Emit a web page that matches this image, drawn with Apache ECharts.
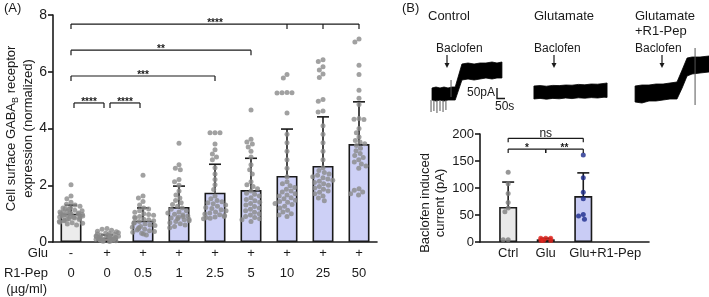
<!DOCTYPE html>
<html>
<head>
<meta charset="utf-8">
<script src="https://cdn.jsdelivr.net/npm/echarts@6/dist/echarts.min.js"></script>
<style>
  html, body { margin: 0; padding: 0; background: #fff; }
  #chart { width: 709px; height: 297px; }
</style>
</head>
<body>
<div id="chart"></div>
<script>
const font = '"Liberation Sans", Arial, Helvetica, sans-serif'
const ink = '#1a1a1a'

// ---- panel A: surface GABA-B expression ----
const gluSigns = ['-', '+', '+', '+', '+', '+', '+', '+', '+']
const pepDoses = ['0', '0', '0.5', '1', '2.5', '5', '10', '25', '50']
const meanA = [1.0, 0.15, 0.75, 1.23, 1.74, 1.83, 2.33, 2.68, 3.45]
const sdA = [0.3, 0.1, 0.45, 0.74, 1.0, 1.12, 1.65, 1.73, 1.49]
const barColorsA = ['#ececec', '#eccaca', '#cdd0f6', '#cdd0f6', '#cdd0f6', '#cdd0f6', '#cdd0f6', '#cdd0f6', '#cdd0f6']

const ptsCtrlA = [2.02, 1.62, 1.52, 1.4, 1.33, 1.3, 1.26, 1.22, 1.2, 1.17, 1.15, 1.12, 1.1, 1.09, 1.06, 1.05, 1.03, 1.02, 1.0, 0.99, 0.98, 0.97, 0.95, 0.95, 0.93, 0.92, 0.9, 0.9, 0.88, 0.87, 0.85, 0.84, 0.82, 0.8, 0.79, 0.77, 0.75, 0.72, 0.7, 0.68, 0.66, 0.63, 0.6]
const ptsGluA = [0.48, 0.45, 0.41, 0.38, 0.36, 0.33, 0.31, 0.3, 0.28, 0.27, 0.25, 0.24, 0.22, 0.21, 0.2, 0.19, 0.18, 0.17, 0.16, 0.15, 0.14, 0.14, 0.13, 0.12, 0.11, 0.1, 0.1, 0.09, 0.08, 0.07, 0.06, 0.05, 0.05, 0.04, 0.03, 0.02]
const ptsPep0_5 = [2.35, 1.62, 1.55, 1.43, 1.3, 1.2, 1.16, 1.1, 1.05, 1.0, 0.97, 0.94, 0.9, 0.87, 0.84, 0.8, 0.78, 0.75, 0.72, 0.68, 0.66, 0.63, 0.6, 0.58, 0.55, 0.52, 0.5, 0.47, 0.45, 0.42, 0.4, 0.37, 0.34, 0.31, 0.28, 0.25]
const ptsPep1 = [3.48, 2.72, 2.6, 2.55, 2.2, 2.12, 2.0, 1.8, 1.66, 1.55, 1.46, 1.38, 1.32, 1.26, 1.2, 1.15, 1.1, 1.06, 1.02, 0.98, 0.95, 0.92, 0.9, 0.87, 0.85, 0.82, 0.8, 0.78, 0.75, 0.72, 0.68, 0.64, 0.6, 0.55, 0.5]
const ptsPep2_5 = [3.85, 3.85, 3.85, 3.45, 3.25, 3.1, 3.0, 2.9, 2.62, 2.4, 2.2, 2.02, 1.85, 1.62, 1.52, 1.46, 1.42, 1.38, 1.35, 1.3, 1.26, 1.22, 1.18, 1.14, 1.1, 1.06, 1.02, 0.99, 0.96, 0.93, 0.9, 0.88, 0.86, 0.84, 0.82]
const ptsPep5 = [4.65, 3.62, 3.52, 3.45, 3.35, 3.2, 3.0, 2.72, 2.55, 2.4, 2.12, 2.02, 1.96, 1.88, 1.8, 1.72, 1.68, 1.62, 1.56, 1.5, 1.45, 1.4, 1.36, 1.3, 1.25, 1.2, 1.15, 1.1, 1.05, 1.0, 0.95, 0.9, 0.86, 0.82, 0.78, 0.72]
const ptsPep10 = [5.9, 5.78, 5.27, 5.26, 5.26, 5.25, 4.55, 3.8, 3.5, 3.2, 2.9, 2.6, 2.3, 2.12, 2.05, 1.98, 1.92, 1.86, 1.8, 1.76, 1.7, 1.66, 1.62, 1.56, 1.52, 1.47, 1.43, 1.4, 1.36, 1.32, 1.26, 1.2, 1.12, 1.06, 1.0, 0.95, 0.9]
const ptsPep25 = [6.42, 6.36, 6.18, 6.06, 5.92, 5.8, 5.02, 4.96, 4.62, 4.58, 4.1, 3.8, 3.5, 3.2, 2.9, 2.62, 2.52, 2.45, 2.4, 2.35, 2.3, 2.26, 2.22, 2.18, 2.14, 2.1, 2.05, 2.0, 1.96, 1.9, 1.86, 1.8, 1.75, 1.7, 1.62, 1.55, 1.45]
const ptsPep50 = [7.15, 7.05, 6.23, 5.9, 5.35, 5.07, 4.85, 4.35, 4.33, 4.32, 4.0, 3.85, 3.7, 3.58, 3.52, 3.46, 3.4, 3.3, 3.22, 3.12, 3.05, 2.98, 2.9, 2.82, 2.75, 2.68, 2.6, 1.88, 1.82, 1.76, 1.7, 1.66]
const pointsA = [ptsCtrlA, ptsGluA, ptsPep0_5, ptsPep1, ptsPep2_5, ptsPep5, ptsPep10, ptsPep25, ptsPep50]

// significance brackets (group index from/to, bracket height)
const sigFromA = [0, 1, 0, 0, 0]
const sigToA = [1, 2, 4, 5, 8]
const sigYA = [4.9, 4.9, 5.85, 6.76, 7.68]
const sigTicksA = [[0, 1], [1, 2], [0, 4], [0, 5], [0, 6, 7, 8]]
const sigTextA = ['****', '****', '***', '**', '****']

// ---- panel B: baclofen induced current ----
const groupsB = ['Ctrl', 'Glu', 'Glu+R1-Pep']
const meanB = [65, 5, 85]
const sdB = [46, 2, 43]
const barColorsB = ['#e8e8e8', '#e8e8e8', '#c9ccf5']
const dotColorsB = ['#7d7d7d', '#e3241d', '#1b2b8c']
const ptsCtrlB = [129, 108, 90, 73, 63, 56, 4, 4]
const ptsGluB = [7, 7, 7, 3, 3, 3]
const ptsPepB = [161, 119, 92, 80, 51, 48, 42]
const pointsB = [ptsCtrlB, ptsGluB, ptsPepB]

const sigFromB = [0, 0, 1]
const sigToB = [2, 1, 2]
const sigYB = [192, 172, 172]
const sigTextB = ['ns', '*', '**']

// ---- recordings (time in s, current in pA; lower / upper edge of the noisy band) ----
const ctrlT = [25, 50, 75, 100, 125, 150, 170, 212, 250, 288, 325, 362, 400, 431, 462]
const ctrlLo = [100, 95, 100, 95, 100, 100, 100, 200, 205, 200, 205, 210, 205, 210, 210]
const ctrlHi = [160, 165, 160, 165, 160, 165, 165, 280, 285, 280, 285, 285, 290, 285, 290]
const gluT = [662, 700, 740, 780, 820, 860, 900, 940, 980, 1020, 1060, 1100, 1119]
const gluLo = [105, 108, 104, 108, 106, 110, 107, 111, 109, 112, 110, 114, 113]
const gluHi = [170, 172, 169, 173, 172, 175, 174, 178, 176, 180, 179, 183, 185]
const pepT = [1294, 1337, 1381, 1425, 1469, 1512, 1556, 1588, 1619, 1650, 1700, 1756]
const pepLo = [90, 85, 95, 95, 100, 105, 105, 160, 220, 230, 235, 240]
const pepHi = [170, 175, 175, 180, 180, 185, 190, 250, 310, 315, 315, 320]
const spikeT = [19, 37, 56, 75, 94, 112, 144, 1669]
const spikeLo = [40, 45, 35, 45, 40, 50, 115, 75]
const spikeHi = [100, 100, 100, 100, 100, 100, 200, 360]
const tracesT = [ctrlT, gluT, pepT]
const tracesLo = [ctrlLo, gluLo, pepLo]
const tracesHi = [ctrlHi, gluHi, pepHi]

const slotB = (g) => g * 2 + 1
const slotsB = Array.from({ length: 9 }, (_, i) => (i % 2 === 1 && groupsB[(i - 1) / 2]) || '')

const scatterA = []
pointsA.forEach((pts, i) => pts.forEach((v) => scatterA.push([i, v])))

const errorBar = (params, api) => {
  const base = api.coord([api.value(0), api.value(1)])
  const top = api.coord([api.value(0), api.value(1) + api.value(2)])
  const style = { stroke: ink, lineWidth: 1.6 }
  return {
    type: 'group',
    children: [
      { type: 'line', shape: { x1: base[0], y1: base[1], x2: top[0], y2: top[1] }, style },
      { type: 'line', shape: { x1: top[0] - 6, y1: top[1], x2: top[0] + 6, y2: top[1] }, style },
    ],
  }
}

const bracketRender = (fromArr, toArr, yArr, ticksArr, textArr, slot, opts) => (params, api) => {
  const i = params.dataIndex
  const inset = toArr[i] - fromArr[i] === 1 ? opts.inset : 0
  const xOf = (g) => {
    let x = api.coord([slot(g), yArr[i]])[0]
    if (g === fromArr[i]) x += inset
    if (g === toArr[i]) x -= inset
    return x
  }
  const y = api.coord([slot(fromArr[i]), yArr[i]])[1]
  const x1 = xOf(fromArr[i])
  const x2 = xOf(toArr[i])
  const style = { stroke: ink, lineWidth: 1.2 }
  const children = [{ type: 'line', shape: { x1, y1: y, x2, y2: y }, style }]
  ticksArr[i].forEach((g) => {
    const x = xOf(g)
    children.push({ type: 'line', shape: { x1: x, y1: y, x2: x, y2: y + opts.drop }, style })
  })
  const isNs = textArr[i] === 'ns'
  children.push({
    type: 'text',
    style: {
      text: textArr[i],
      x: (x1 + x2) / 2,
      y: y + (isNs ? 1 : 4),
      align: 'center',
      verticalAlign: 'bottom',
      textAlign: 'center',
      textVerticalAlign: 'bottom',
      font: isNs ? `12px ${font}` : `bold 10px ${font}`,
      fill: ink,
    },
  })
  return { type: 'group', children }
}

// one filled band per recording: upper edge forward, lower edge back
const traceBand = (params, api) => {
  const k = params.dataIndex
  const T = tracesT[k]
  const upper = T.map((t, i) => api.coord([t, tracesHi[k][i]]))
  const lower = T.map((t, i) => api.coord([t, tracesLo[k][i]])).reverse()
  return {
    type: 'polygon',
    shape: { points: upper.concat(lower) },
    style: { fill: '#000', stroke: '#000', lineWidth: 0.8 },
  }
}

const txt = (text, x, y, size, align, extra) => ({
  type: 'text', x, y, silent: true,
  style: Object.assign({
    text, font: `${size}px ${font}`, fill: ink,
    align: align || 'left', verticalAlign: 'middle',
    textAlign: align || 'left', textVerticalAlign: 'middle',
  }, extra || {}),
})

const arrow = (x) => ({
  type: 'group', silent: true,
  children: [
    { type: 'line', shape: { x1: x, y1: 55, x2: x, y2: 66 }, style: { stroke: ink, lineWidth: 1.2 } },
    { type: 'polygon', shape: { points: [[x - 2.5, 63], [x + 2.5, 63], [x, 68]] }, style: { fill: ink } },
  ],
})

const chart = echarts.init(document.getElementById('chart'))
chart.setOption({
  animation: false,
  textStyle: { fontFamily: font },
  grid: [
    { left: 53, top: 15, width: 324, height: 227 },
    { left: 480, top: 134, width: 169, height: 108 },
    { left: 428, top: 40, width: 281, height: 80 },
  ],
  xAxis: [
    {
      gridIndex: 0, type: 'category', data: pepDoses,
      jitter: 24, jitterOverlap: false, jitterMargin: 0,
      axisLine: { lineStyle: { color: ink, width: 1.6 } },
      axisTick: { show: false },
      axisLabel: {
        interval: 0, margin: 1, fontSize: 13, lineHeight: 20, color: ink,
        formatter: (v, i) => gluSigns[i] + '\n' + pepDoses[i],
      },
    },
    {
      gridIndex: 1, type: 'category', data: slotsB,
      jitter: 12, jitterOverlap: false, jitterMargin: 0,
      axisLine: { lineStyle: { color: ink, width: 1.6 } },
      axisTick: { show: false },
      axisLabel: {
        interval: 0, margin: 3, fontSize: 13, lineHeight: 16, color: ink,
        formatter: (v) => (v === groupsB[2] ? '{r|' + v + '}' : v),
        rich: { r: { fontSize: 13, lineHeight: 16, color: ink, padding: [0, 0, 0, 44] } },
      },
    },
    { gridIndex: 2, type: 'value', min: 0, max: 1756, show: false },
  ],
  yAxis: [
    {
      gridIndex: 0, type: 'value', min: 0, max: 8, interval: 2,
      axisLine: { show: true, lineStyle: { color: ink, width: 1.6 } },
      axisTick: { show: true, length: 5, lineStyle: { color: ink, width: 1.6 } },
      axisLabel: { fontSize: 14, margin: 6, color: ink },
      splitLine: { show: false },
      name: '{t|Cell surface GABA}{s|B}{t| receptor}\n{t|expression (normalized)}',
      nameLocation: 'middle', nameRotate: 90, nameGap: 10,
      nameTextStyle: {
        rich: {
          t: { fontSize: 13, lineHeight: 17, color: ink, fontFamily: font },
          s: { fontSize: 9, lineHeight: 10, verticalAlign: 'bottom', color: ink, fontFamily: font },
        },
      },
    },
    {
      gridIndex: 1, type: 'value', min: 0, max: 200, interval: 50,
      axisLine: { show: true, lineStyle: { color: ink, width: 1.6 } },
      axisTick: { show: true, length: 5, lineStyle: { color: ink, width: 1.6 } },
      axisLabel: { fontSize: 13, margin: 6, color: ink },
      splitLine: { show: false },
      name: 'Baclofen induced\ncurrent (pA)',
      nameLocation: 'middle', nameRotate: 90, nameGap: 18,
      nameTextStyle: { fontSize: 13, lineHeight: 15, color: ink, padding: [0, 30, 0, 0] },
    },
    { gridIndex: 2, type: 'value', min: 0, max: 400, show: false },
  ],
  series: [
    {
      type: 'bar', xAxisIndex: 0, yAxisIndex: 0, barWidth: 21, z: 1,
      data: meanA.map((m, i) => ({ value: m, itemStyle: { color: barColorsA[i] } })),
      itemStyle: { borderColor: ink, borderWidth: 1.6 },
    },
    {
      type: 'custom', xAxisIndex: 0, yAxisIndex: 0, z: 2,
      data: meanA.map((m, i) => [i, m, sdA[i]]),
      encode: { x: 0, y: 1 }, renderItem: errorBar,
    },
    {
      type: 'scatter', xAxisIndex: 0, yAxisIndex: 0, z: 3,
      data: scatterA, symbolSize: 5, itemStyle: { color: '#8a8a8a' },
    },
    {
      type: 'custom', xAxisIndex: 0, yAxisIndex: 0, z: 4,
      data: sigYA.map((y, i) => [sigFromA[i], y]),
      encode: { x: 0, y: 1 },
      renderItem: bracketRender(sigFromA, sigToA, sigYA, sigTicksA, sigTextA, (g) => g, { inset: 3, drop: 5 }),
    },
    {
      type: 'bar', xAxisIndex: 1, yAxisIndex: 1, barWidth: 18, z: 1,
      data: meanB.map((m, i) => ({ value: [slotB(i), m], itemStyle: { color: barColorsB[i] } })),
      itemStyle: { borderColor: ink, borderWidth: 1.6 },
    },
    {
      type: 'custom', xAxisIndex: 1, yAxisIndex: 1, z: 2,
      data: meanB.map((m, i) => [slotB(i), m, sdB[i]]),
      encode: { x: 0, y: 1 }, renderItem: errorBar,
    },
    ...pointsB.map((pts, g) => ({
      type: 'scatter', xAxisIndex: 1, yAxisIndex: 1, z: 3,
      data: pts.map((v) => [slotB(g), v]), symbolSize: 5, itemStyle: { color: dotColorsB[g] },
    })),
    {
      type: 'custom', xAxisIndex: 1, yAxisIndex: 1, z: 4,
      data: sigYB.map((y, i) => [slotB(sigFromB[i]), y]),
      encode: { x: 0, y: 1 },
      renderItem: bracketRender(sigFromB, sigToB, sigYB, sigFromB.map((f, i) => [f, sigToB[i]]), sigTextB, slotB, { inset: 0, drop: 4 }),
    },
    {
      type: 'custom', xAxisIndex: 2, yAxisIndex: 2, silent: true, clip: false,
      data: tracesT.map((T, k) => [T[0], tracesLo[k][0]]),
      encode: { x: 0, y: 1 }, renderItem: traceBand,
    },
    {
      type: 'custom', xAxisIndex: 2, yAxisIndex: 2, silent: true,
      data: spikeT.map((t, i) => [t, spikeLo[i], spikeHi[i]]),
      encode: { x: 0, y: 1 },
      renderItem: (params, api) => {
        const a = api.coord([api.value(0), api.value(1)])
        const b = api.coord([api.value(0), api.value(2)])
        return { type: 'line', shape: { x1: a[0], y1: a[1], x2: b[0], y2: b[1] }, style: { stroke: '#555', lineWidth: 1 } }
      },
    },
  ],
  graphic: [
    txt('(A)', 4, 8, 13),
    txt('(B)', 402, 8, 13),
    txt('Glu', 48, 253, 13, 'right'),
    txt('R1-Pep', 48, 273, 13, 'right'),
    txt('(µg/ml)', 47, 289, 13, 'right'),
    txt('Control', 428, 16, 13),
    txt('Glutamate', 534, 16, 13),
    txt('Glutamate', 635, 16, 13),
    txt('+R1-Pep', 635, 31, 13),
    txt('Baclofen', 436, 49, 12),
    txt('Baclofen', 534, 49, 12),
    txt('Baclofen', 635, 49, 12),
    arrow(447),
    arrow(554),
    arrow(662),
    {
      type: 'polyline', silent: true,
      shape: { points: [[497, 88], [497, 98.5], [505, 98.5]] },
      style: { stroke: ink, lineWidth: 1.4, fill: null },
    },
    txt('50pA', 495, 93, 12, 'right'),
    txt('50s', 495, 107, 12),
  ],
})
</script>
</body>
</html>
